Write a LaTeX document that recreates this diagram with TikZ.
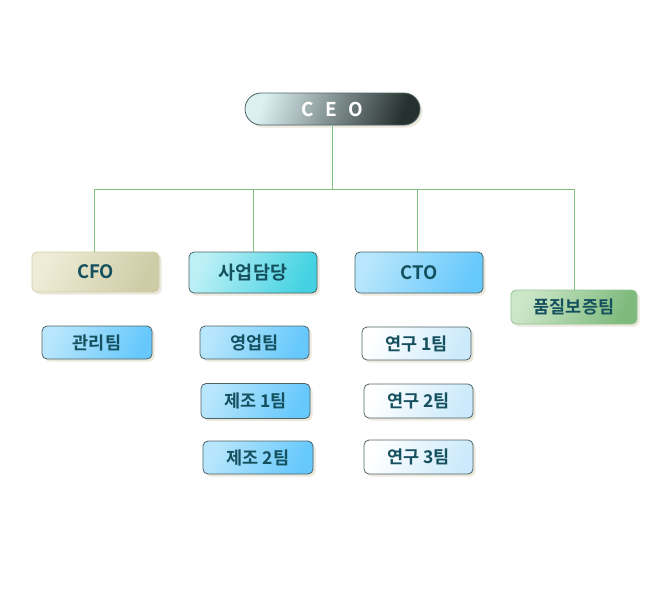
\documentclass[tikz,border=0pt]{standalone}
\usepackage{fontspec}
\setmainfont{Noto Sans CJK KR}[BoldFont={* Bold}]
\usetikzlibrary{shadows,calc}
\definecolor{txt}{HTML}{15505E}
\definecolor{linec}{HTML}{80C080}
\definecolor{shad}{HTML}{E6E2D4}
\definecolor{bordc}{HTML}{4E6264}
\definecolor{cfoline}{HTML}{D2D0AA}
\definecolor{qaline}{HTML}{94C494}
\definecolor{ceoa}{HTML}{DCF0F2}
\definecolor{ceob}{HTML}{26302E}
\definecolor{cfoa}{HTML}{EEECD6}
\definecolor{cfob}{HTML}{CECCA6}
\definecolor{saa}{HTML}{BCF0F6}
\definecolor{sab}{HTML}{44D2E2}
\definecolor{qaa}{HTML}{CCE6C8}
\definecolor{qab}{HTML}{7EBA7C}
\definecolor{ba}{HTML}{B8E6FC}
\definecolor{bb}{HTML}{66C8FC}
\definecolor{pa}{HTML}{FFFFFF}
\definecolor{pb}{HTML}{CCEAFB}
\tikzset{
  box/.style={draw=bordc, line width=0.8pt, rounded corners=5pt, inner sep=0pt,
    text=txt, font=\fontsize{18.5}{20}\selectfont\bfseries,
    drop shadow={shadow xshift=2.5pt, shadow yshift=-2.5pt, fill=shad, opacity=0.8}},
  lvltwo/.style={box, minimum width=128pt, minimum height=41pt},
  team/.style={box, minimum width=109pt, minimum height=34pt, font=\fontsize{17.5}{19}\selectfont\bfseries},
  bluefill/.style={top color=ba, bottom color=bb, shading angle=65},
  palefill/.style={top color=pa, bottom color=pb, shading angle=65},
  conn/.style={draw=linec, line width=0.8pt}
}
\begin{document}
\begin{tikzpicture}[x=1pt,y=-1pt]
\useasboundingbox (0,0) rectangle (670,590);

\node[box, rounded corners=16pt, minimum width=175pt, minimum height=32pt,
  top color=ceoa, bottom color=ceob, shading angle=70, text=white,
  font=\fontsize{19}{21}\selectfont\bfseries] (ceo) at (332.5,109)
  {C\hspace{0.6em}E\hspace{0.6em}O};

\node[lvltwo, draw=cfoline, top color=cfoa, bottom color=cfob, shading angle=65,
  minimum width=127pt, minimum height=40pt] (cfo) at (95.5,272) {CFO};
\node[lvltwo, top color=saa, bottom color=sab, shading angle=65] (sa) at (253,272.5) {사업담당};
\node[lvltwo, bluefill] (cto) at (419,272.5) {CTO};
\node[lvltwo, draw=qaline, top color=qaa, bottom color=qab, shading angle=65,
  minimum width=126pt, minimum height=34pt, font=\fontsize{17.5}{19}\selectfont\bfseries] (qa) at (574,307) {품질보증팀};

\node[team, bluefill, minimum width=110pt, minimum height=33pt] (t1) at (97,342.5) {관리팀};
\node[team, bluefill, minimum height=33pt] (t2) at (254.5,342.5) {영업팀};
\node[team, bluefill, minimum height=35pt] (t3) at (255.5,401) {제조 1팀};
\node[team, bluefill, minimum width=110pt, minimum height=33pt] (t4) at (258,457.5) {제조 2팀};
\node[team, palefill, minimum height=33pt] (r1) at (416.5,343.5) {연구 1팀};
\node[team, palefill] (r2) at (418.5,401) {연구 2팀};
\node[team, palefill] (r3) at (418.5,457) {연구 3팀};

\coordinate (bus) at (332,189);
\draw[conn] (ceo.south) -- (ceo.south |- bus);
\draw[conn] ([xshift=-1.5pt]cfo.north) -- ([xshift=-1.5pt]cfo.north |- bus) -- (qa.north |- bus) -- (qa.north);
\draw[conn] (sa.north) -- (sa.north |- bus);
\draw[conn] ([xshift=-2pt]cto.north) -- ([xshift=-2pt]cto.north |- bus);
\end{tikzpicture}
\end{document}
